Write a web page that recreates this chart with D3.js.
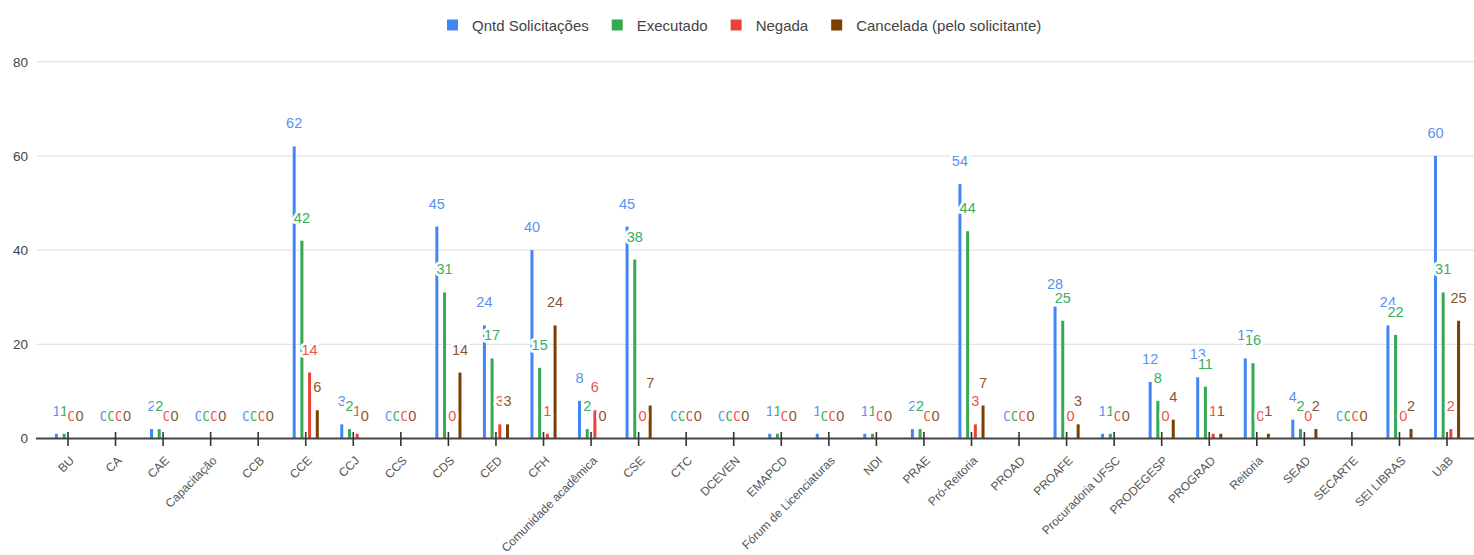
<!DOCTYPE html>
<html lang="pt-BR">
<head>
<meta charset="utf-8">
<title>Solicitações por unidade</title>
<script src="https://cdn.jsdelivr.net/npm/d3@7"></script>
<style>
  html, body { margin: 0; padding: 0; background: #fff; }
  svg { display: block; font-family: "Liberation Sans", Arial, sans-serif; }
</style>
</head>
<body>
<svg id="chart" width="1474" height="555"></svg>
<script>
// Units that filed requests
const categories = [
  "BU", "CA", "CAE", "Capacitação", "CCB", "CCE", "CCJ", "CCS", "CDS", "CED",
  "CFH", "Comunidade acadêmica", "CSE", "CTC", "DCEVEN", "EMAPCD",
  "Fórum de Licenciaturas", "NDI", "PRAE", "Pró-Reitoria", "PROAD", "PROAFE",
  "Procuradoria UFSC", "PRODEGESP", "PROGRAD", "Reitoria", "SEAD", "SECARTE",
  "SEI LIBRAS", "UaB"
];

// Series values, one entry per unit
const solicitacoes = [1, 0, 2, 0, 0, 62, 3, 0, 45, 24, 40, 8, 45, 0, 0, 1, 1, 1, 2, 54, 0, 28, 1, 12, 13, 17, 4, 0, 24, 60];
const executado    = [1, 0, 2, 0, 0, 42, 2, 0, 31, 17, 15, 2, 38, 0, 0, 1, 0, 1, 2, 44, 0, 25, 1, 8, 11, 16, 2, 0, 22, 31];
const negada       = [0, 0, 0, 0, 0, 14, 1, 0, 0, 3, 1, 6, 0, 0, 0, 0, 0, 0, 0, 3, 0, 0, 0, 0, 1, 0, 0, 0, 0, 2];
const cancelada    = [0, 0, 0, 0, 0, 6, 0, 0, 14, 3, 24, 0, 7, 0, 0, 0, 0, 0, 0, 7, 0, 3, 0, 4, 1, 1, 2, 0, 2, 25];

const seriesNames = ["Qntd Solicitações", "Executado", "Negada", "Cancelada (pelo solicitante)"];
const seriesValues = [solicitacoes, executado, negada, cancelada];
const seriesColors = ["#4285f4", "#34a853", "#ea4335", "#7b3f00"];
const labelColors  = ["#5b92f0", "#3dac5c", "#ec5448", "#8a5530"];

const yTicks = [0, 20, 40, 60, 80];

const svg = d3.select("#chart");

const x = d3.scaleBand().domain(categories).range([44.2, 1470.8]).padding(0);
const sub = d3.scaleBand().domain(d3.range(seriesNames.length)).range([-15.4, 15.4]).padding(0);
const y = d3.scaleLinear().domain([0, 80]).range([438.5, 61.7]);
const barW = 3;

// Gridlines
svg.append("g")
  .selectAll("line")
  .data(yTicks.filter(t => t > 0))
  .join("line")
  .attr("x1", 37).attr("x2", 1474)
  .attr("y1", d => y(d)).attr("y2", d => y(d))
  .attr("stroke", "#e3e3e3").attr("stroke-width", 1.2);

// Y axis labels
const yAxis = d3.axisLeft(y).tickValues(yTicks).tickSize(0).tickPadding(0);
const yg = svg.append("g").attr("transform", "translate(28,0)").call(yAxis);
yg.select(".domain").remove();
yg.selectAll("text")
  .attr("fill", "#444")
  .style("font-size", "13.5px")
  .style("font-family", "'Liberation Sans', Arial, sans-serif");

// Flatten bars
const bars = [];
categories.forEach((c, i) => {
  seriesValues.forEach((vals, s) => {
    bars.push({ cat: c, s, v: vals[i] });
  });
});
const cx = d => x(d.cat) + x.bandwidth() / 2 + sub(d.s) + sub.bandwidth() / 2;

// Bars
svg.append("g")
  .selectAll("rect")
  .data(bars.filter(d => d.v > 0))
  .join("rect")
  .attr("x", d => cx(d) - barW / 2)
  .attr("width", barW)
  .attr("y", d => y(d.v))
  .attr("height", d => y(0) - y(d.v))
  .attr("fill", d => seriesColors[d.s]);

// Baseline and category ticks
svg.append("line")
  .attr("x1", 36).attr("x2", 1474)
  .attr("y1", y(0)).attr("y2", y(0))
  .attr("stroke", "#444").attr("stroke-width", 2);

svg.append("g")
  .selectAll("line")
  .data(categories)
  .join("line")
  .attr("x1", d => x(d) + x.bandwidth() / 2)
  .attr("x2", d => x(d) + x.bandwidth() / 2)
  .attr("y1", y(0) - 6.5).attr("y2", y(0) + 7.5)
  .attr("stroke", "#333").attr("stroke-width", 1.6);

// Category labels, slanted
svg.append("g")
  .selectAll("text")
  .data(categories)
  .join("text")
  .attr("transform", d => `translate(${x(d) + x.bandwidth() / 2 + 4},${y(0) + 20}) rotate(-45)`)
  .attr("text-anchor", "end")
  .attr("dominant-baseline", "central")
  .attr("fill", "#555")
  .style("font-size", "12px")
  .text(d => d);

// Value annotations with white halo, drawn in series order
svg.append("g")
  .selectAll("text")
  .data(bars)
  .join("text")
  .attr("x", d => cx(d))
  .attr("y", d => y(d.v) - 18)
  .attr("text-anchor", "middle")
  .attr("fill", d => labelColors[d.s])
  .attr("stroke", "#fff")
  .attr("stroke-width", 5.5)
  .attr("paint-order", "stroke")
  .attr("stroke-linejoin", "round")
  .style("font-size", "14.5px")
  .text(d => d.v);

// Legend
const legend = svg.append("g").attr("transform", "translate(0,25)");
let lx = 447;
seriesNames.forEach((name, s) => {
  legend.append("rect")
    .attr("x", lx).attr("y", -5.5)
    .attr("width", 11).attr("height", 11)
    .attr("fill", seriesColors[s]);
  const t = legend.append("text")
    .attr("x", lx + 25)
    .attr("dominant-baseline", "central")
    .attr("fill", "#444")
    .style("font-size", "15px")
    .text(name);
  lx += 25 + t.node().getComputedTextLength() + 23;
});
</script>
</body>
</html>
